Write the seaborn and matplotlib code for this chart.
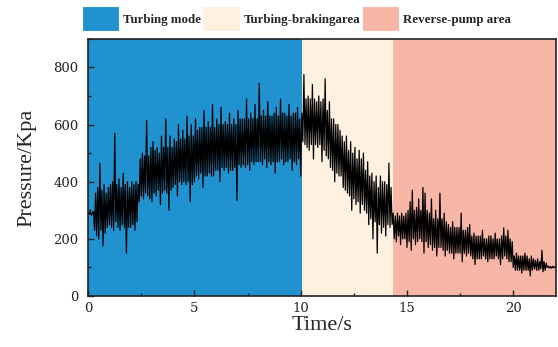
import numpy as np
import pandas as pd
import matplotlib
matplotlib.use("Agg")
import matplotlib.pyplot as plt
from matplotlib.patches import Patch
from matplotlib.ticker import MultipleLocator
import seaborn as sns

# pressure readings every 0.05 s (0.0 .. 22.0 s), one row per second
pressure = [
    292, 286, 295, 283, 290, 296, 230, 360, 210, 380, 200, 465, 230, 370, 175, 390, 220, 360, 240, 380,
    250, 390, 240, 400, 230, 570, 260, 390, 240, 410, 230, 380, 250, 430, 240, 390, 150, 400, 240, 380,
    240, 400, 250, 390, 230, 400, 260, 390, 330, 480, 350, 500, 340, 490, 360, 615, 350, 490, 340, 520,
    330, 540, 360, 510, 350, 520, 370, 500, 320, 560, 360, 520, 370, 620, 360, 520, 300, 560, 370, 520,
    380, 550, 390, 540, 350, 600, 400, 550, 390, 580, 400, 550, 390, 630, 400, 560, 330, 600, 390, 560,
    400, 620, 420, 580, 410, 590, 430, 590, 380, 650, 420, 590, 420, 610, 430, 590, 420, 670, 420, 590,
    440, 620, 440, 600, 400, 660, 450, 600, 440, 610, 450, 600, 430, 640, 440, 600, 440, 620, 450, 600,
    335, 650, 460, 620, 450, 620, 460, 620, 450, 690, 460, 620, 440, 640, 470, 620, 460, 670, 470, 620,
    470, 745, 470, 630, 460, 650, 480, 630, 450, 680, 470, 630, 460, 630, 470, 640, 430, 660, 470, 630,
    470, 690, 480, 640, 460, 640, 470, 630, 470, 670, 480, 630, 440, 640, 470, 640, 460, 660, 480, 620,
    420, 640, 540, 775, 530, 690, 520, 700, 510, 690, 530, 740, 480, 690, 530, 680, 520, 700, 530, 680,
    470, 690, 510, 760, 490, 650, 480, 680, 450, 620, 440, 620, 400, 600, 430, 600, 420, 580, 420, 560,
    380, 540, 370, 560, 360, 510, 350, 540, 300, 500, 340, 520, 320, 480, 330, 510, 290, 480, 320, 500,
    300, 440, 290, 470, 250, 420, 270, 430, 200, 400, 260, 420, 150, 380, 250, 420, 220, 400, 240, 400,
    210, 390, 250, 465, 240, 380, 250, 290, 200, 280, 190, 290, 210, 280, 180, 290, 200, 280, 200, 290,
    170, 300, 190, 330, 160, 370, 200, 300, 180, 310, 190, 340, 200, 300, 190, 380, 150, 360, 190, 300,
    170, 290, 180, 340, 160, 270, 170, 300, 140, 270, 170, 360, 170, 270, 160, 290, 140, 260, 160, 250,
    150, 240, 150, 260, 130, 240, 150, 240, 150, 240, 150, 290, 120, 230, 150, 230, 140, 240, 150, 250,
    140, 210, 130, 220, 110, 210, 130, 210, 130, 210, 130, 230, 140, 200, 130, 200, 120, 210, 130, 210,
    130, 200, 130, 220, 140, 200, 130, 200, 110, 210, 130, 238, 140, 210, 130, 230, 120, 200, 120, 190,
    100, 140, 90, 150, 90, 140, 90, 140, 80, 140, 90, 150, 90, 140, 90, 130, 70, 140, 90, 130,
    95, 125, 90, 130, 90, 120, 95, 160, 85, 120, 90, 115, 100, 104, 98, 103, 97, 104, 99, 102,
    100,
]
time = np.round(np.arange(len(pressure)) * 0.05, 3)

# operating regions (start, end) in seconds
region_names = ["Turbing mode", "Turbing-brakingarea", "Reverse-pump area"]
region_bounds = [(0, 10.05), (10.05, 14.35), (14.35, 22)]
region_colors = ["#2092d0", "#fff0e0", "#f7b6a6"]

df = pd.DataFrame({"Time": time, "Pressure": pressure})

sns.set_style("ticks")
plt.rcParams["font.family"] = ["DejaVu Serif"]

fig = plt.figure(figsize=(5.58, 3.47), dpi=100)
ax = fig.add_axes([0.158, 0.147, 0.838, 0.741])

for (a, b), c in zip(region_bounds, region_colors):
    ax.axvspan(a, b, color=c, lw=0, zorder=0)

sns.lineplot(data=df, x="Time", y="Pressure", color="black", lw=0.9, ax=ax, zorder=2)

ax.set_xlim(0, 22)
ax.set_ylim(0, 900)
ax.xaxis.set_major_locator(MultipleLocator(5))
ax.xaxis.set_minor_locator(MultipleLocator(2.5))
ax.yaxis.set_major_locator(MultipleLocator(200))
ax.yaxis.set_minor_locator(MultipleLocator(100))
ax.tick_params(which="both", direction="in", labelsize=9.5, colors="#222222")
ax.tick_params(which="major", length=4, width=1)
ax.tick_params(which="minor", length=2, width=1)
ax.tick_params(axis="y", pad=7)
ax.tick_params(axis="x", pad=4)
for s in ax.spines.values():
    s.set_linewidth(1.2)
    s.set_color("#222222")

ax.set_xlabel("Time/s", fontsize=16, family="Liberation Serif", labelpad=1)
ax.set_ylabel("Pressure/Kpa", fontsize=16, family="Liberation Serif", labelpad=12)

handles = [Patch(facecolor=c, edgecolor="white", lw=0.8) for c in region_colors]
fig.legend(handles, region_names, loc="upper left", bbox_to_anchor=(0.135, 1.0), ncol=3,
           frameon=False, handlelength=2.9, handleheight=2.6, handletextpad=0.3,
           columnspacing=0.1, borderaxespad=0.1,
           prop={"family": "Liberation Serif", "weight": "bold", "size": 9.3})

fig.savefig("out.png", dpi=100)
